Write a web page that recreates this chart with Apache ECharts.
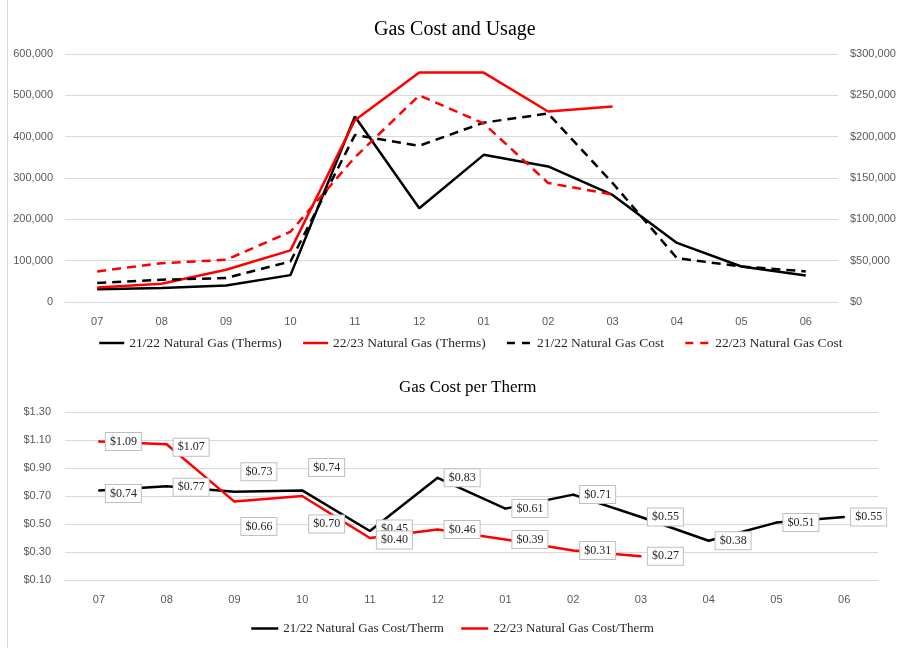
<!DOCTYPE html>
<html><head><meta charset="utf-8">
<script src="https://cdn.jsdelivr.net/npm/echarts@6/dist/echarts.min.js"></script>
<style>html,body{margin:0;padding:0;background:#fff}#c{width:900px;height:648px}</style>
</head><body><div id="c"></div>
<script>
const months = ['07','08','09','10','11','12','01','02','03','04','05','06'];
const therms2122 = [31000, 34000, 40000, 65000, 449000, 227000, 356000, 328000, 259000, 143000, 86000, 64000];
const therms2223 = [35000, 44000, 78000, 125000, 440000, 555000, 555000, 461000, 473000];
const cost2122 = [23000, 27000, 29000, 49000, 202000, 189000, 217000, 228000, 144000, 53000, 43000, 37000];
const cost2223 = [37000, 47000, 51000, 85000, 175000, 250000, 216000, 144000, 130000];
const cpt2122 = [0.74, 0.77, 0.73, 0.74, 0.45, 0.83, 0.61, 0.71, 0.55, 0.38, 0.51, 0.55];
const cpt2223 = [1.09, 1.07, 0.66, 0.70, 0.40, 0.46, 0.39, 0.31, 0.27];

const serif = 'Liberation Serif';
const sans = 'Liberation Sans';
const grey = '#595959';
const gridLine = {show: true, lineStyle: {color: '#d9d9d9', width: 1}};
const dash = [9, 6];

function fmtNum(v){ return v.toLocaleString('en-US'); }
function fmtMoney(v){ return '$' + v.toLocaleString('en-US'); }

// label offsets (style only)
const offBlack = {0: [0, 3], 1: [0, 1], 2: [0, -20], 3: [0, -23], 4: [0, -2]};
const offRed = {1: [0, 3], 2: [0, 25], 3: [0, 28], 4: [0, 2]};
function labelled(vals, offs){
  return vals.map((v, i) => offs[i] ? {value: v, label: {offset: offs[i]}} : v);
}
const boxLabel = {
  show: true, position: 'right', distance: 6, opacity: 1,
  formatter: p => '$' + Number(p.value).toFixed(2),
  backgroundColor: '#fff', borderColor: '#bfbfbf', borderWidth: 1,
  padding: [3, 4, 2, 4], color: '#262626', fontFamily: serif, fontSize: 12
};

const chart = echarts.init(document.getElementById('c'), null, {renderer: 'canvas'});
chart.setOption({
  animation: false,
  title: [
    {text: 'Gas Cost and Usage', left: 369, top: 15, textStyle: {fontFamily: serif, fontSize: 20, fontWeight: 'normal', color: '#000'}},
    {text: 'Gas Cost per Therm', left: 394, top: 374, textStyle: {fontFamily: serif, fontSize: 17, fontWeight: 'normal', color: '#000'}}
  ],
  legend: [
    {data: [
       {name: '21/22 Natural Gas (Therms)'},
       {name: '22/23 Natural Gas (Therms)'},
       {name: '21/22 Natural Gas Cost', lineStyle: {type: [8, 7]}},
       {name: '22/23 Natural Gas Cost', lineStyle: {type: [8, 7]}}],
     top: 331, left: 93, itemWidth: 25, itemHeight: 12, itemGap: 20,
     itemStyle: {opacity: 0}, lineStyle: {width: 2.5},
     textStyle: {fontFamily: serif, fontSize: 13.5, color: '#262626'}},
    {data: ['21/22 Natural Gas Cost/Therm', '22/23 Natural Gas Cost/Therm'],
     top: 617, left: 245, itemWidth: 27, itemHeight: 12, itemGap: 16,
     itemStyle: {opacity: 0}, lineStyle: {width: 2.5},
     textStyle: {fontFamily: serif, fontSize: 13, color: '#262626'}}
  ],
  grid: [
    {left: 65, right: 62, top: 54, height: 248},
    {left: 65, right: 22, top: 412, height: 168}
  ],
  xAxis: [
    {type: 'category', gridIndex: 0, data: months, boundaryGap: true,
     axisLine: {lineStyle: {color: '#d9d9d9'}}, axisTick: {show: false},
     axisLabel: {color: grey, fontFamily: sans, fontSize: 11, margin: 14}},
    {type: 'category', gridIndex: 1, data: months, boundaryGap: true,
     axisLine: {lineStyle: {color: '#d9d9d9'}}, axisTick: {show: false},
     axisLabel: {color: grey, fontFamily: sans, fontSize: 11, margin: 14}}
  ],
  yAxis: [
    {type: 'value', gridIndex: 0, min: 0, max: 600000, interval: 100000,
     axisLine: {show: false}, axisTick: {show: false}, splitLine: gridLine,
     axisLabel: {formatter: fmtNum, color: grey, fontFamily: sans, fontSize: 11, margin: 12}},
    {type: 'value', gridIndex: 0, min: 0, max: 300000, interval: 50000, position: 'right',
     axisLine: {show: false}, axisTick: {show: false}, splitLine: {show: false},
     axisLabel: {formatter: fmtMoney, color: grey, fontFamily: sans, fontSize: 11, margin: 12}},
    {type: 'value', gridIndex: 1, min: 0.1, max: 1.3, interval: 0.2,
     axisLine: {show: false}, axisTick: {show: false}, splitLine: gridLine,
     axisLabel: {formatter: v => '$' + v.toFixed(2), color: grey, fontFamily: sans, fontSize: 11, margin: 14}}
  ],
  series: [
    {name: '21/22 Natural Gas (Therms)', type: 'line', xAxisIndex: 0, yAxisIndex: 0, data: therms2122,
     symbol: 'none', color: '#000', lineStyle: {color: '#000', width: 2.5}},
    {name: '22/23 Natural Gas (Therms)', type: 'line', xAxisIndex: 0, yAxisIndex: 0, data: therms2223,
     symbol: 'none', color: '#ff0000', lineStyle: {color: '#ff0000', width: 2.5}},
    {name: '21/22 Natural Gas Cost', type: 'line', xAxisIndex: 0, yAxisIndex: 1, data: cost2122,
     symbol: 'none', color: '#000', lineStyle: {color: '#000', width: 2.5, type: dash}},
    {name: '22/23 Natural Gas Cost', type: 'line', xAxisIndex: 0, yAxisIndex: 1, data: cost2223,
     symbol: 'none', color: '#ff0000', lineStyle: {color: '#ff0000', width: 2.5, type: dash}},
    {name: '21/22 Natural Gas Cost/Therm', type: 'line', xAxisIndex: 1, yAxisIndex: 2, data: labelled(cpt2122, offBlack),
     symbol: 'circle', symbolSize: 2, showSymbol: true, showAllSymbol: true,
     color: '#000', itemStyle: {color: '#000'}, lineStyle: {color: '#000', width: 2.5}, label: boxLabel},
    {name: '22/23 Natural Gas Cost/Therm', type: 'line', xAxisIndex: 1, yAxisIndex: 2, data: labelled(cpt2223, offRed),
     symbol: 'circle', symbolSize: 2, showSymbol: true, showAllSymbol: true,
     color: '#ff0000', itemStyle: {color: '#ff0000'}, lineStyle: {color: '#ff0000', width: 2.5}, label: boxLabel}
  ],
  graphic: [
    {type: 'line', shape: {x1: 7.5, y1: 0, x2: 7.5, y2: 648}, style: {stroke: '#d9d9d9', lineWidth: 1}}
  ]
});
</script></body></html>
